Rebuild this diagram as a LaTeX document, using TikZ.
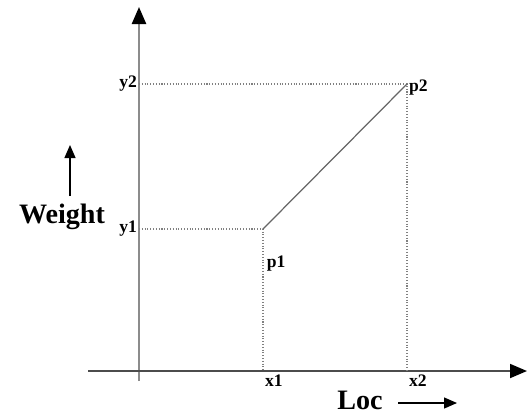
\documentclass[tikz,border=0pt]{standalone}
\usepackage{fontspec}
\setmainfont{Liberation Serif}
\usetikzlibrary{arrows.meta,positioning}
\tikzset{
  yax/.style={draw=black!45,line width=1.4pt,-{Triangle[length=3.4mm,width=2.8mm,color=black]}},
  xax/.style={draw=black!70,line width=1pt,-{Triangle[length=3.4mm,width=2.8mm,color=black]}},
  guide/.style={draw=black!50,densely dotted,line width=0.6pt},
  seg/.style={draw=black!60,line width=0.7pt},
  nyil/.style={draw=black,line width=0.7pt,-{Triangle[length=2.6mm,width=2.2mm]}},
  lbl/.style={inner sep=1pt,font=\bfseries\fontsize{10}{10}\selectfont},
  cim/.style={inner sep=0pt,font=\bfseries\fontsize{16}{16}\selectfont},
}

\begin{document}
\begin{tikzpicture}[x=0.02cm,y=-0.02cm]
  \useasboundingbox (0,0) rectangle (528,414);
  % axes
  \coordinate (ybot) at (139,381); \coordinate (ytop) at (139,7);
  \coordinate (xl) at (88,371); \coordinate (xr) at (527,371);
  \draw[yax] (ybot) -- (ytop);
  \draw[xax] (xl) -- (xr);
  % points
  \coordinate (y1) at (139,229); \coordinate (y2) at (139,84);
  \coordinate (x1) at (263,371); \coordinate (x2) at (407,371);
  \coordinate (p1) at (263,229); \coordinate (p2) at (407,84);
  \draw[guide] (y1) -- (p1) -- (x1);
  \draw[guide] (y2) -- (p2) -- (x2);
  \draw[seg] (p1) -- (p2);
  % labels
  \node[lbl,left=0pt of y1] (ly1) {y1};
  \node[lbl,left=0pt of y2] (ly2) {y2};
  \node[lbl,below right=14pt and 1pt of p1] (lp1) {p1};
  \node[lbl,right=0pt of p2,yshift=-2pt] (lp2) {p2};
  \node[lbl,below right=1pt and 0pt of x1] (lx1) {x1};
  \node[lbl,below right=1pt and 0pt of x2] (lx2) {x2};
  % axis names
  \node[cim] (wt) at (62,217) {Weight};
  \coordinate (wa) at (70,196); \coordinate (wb) at (70,145);
  \draw[nyil] (wa) -- (wb);
  \node[cim] (loc) at (360,400) {Loc};
  \coordinate (la) at (398,403); \coordinate (lb) at (457,403);
  \draw[nyil] (la) -- (lb);
\end{tikzpicture}
\end{document}
